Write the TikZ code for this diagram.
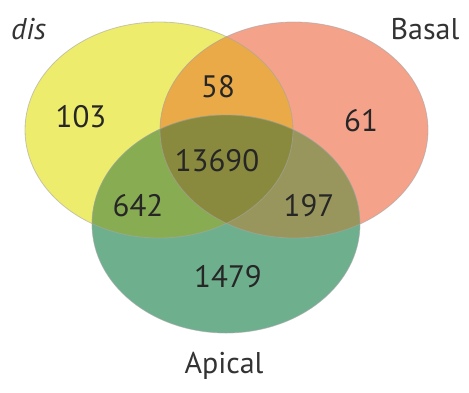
\documentclass[tikz,border=0pt]{standalone}
\usepackage{fontspec}
\setmainfont{PT Sans}
\usepackage{tikz}
\usetikzlibrary{
  calc,
  positioning,
}
\definecolor{disyellow}{RGB}{238, 236, 108}
\definecolor{basalred}{RGB}{245, 162, 138}
\definecolor{apicalgreen}{RGB}{110, 176, 142}
\definecolor{disbasal}{RGB}{234, 170, 72}
\definecolor{disapical}{RGB}{136, 172, 82}
\definecolor{basalapical}{RGB}{152, 150, 92}
\definecolor{allthree}{RGB}{138, 138, 62}
\tikzstyle{count} = [
  font=\fontsize{31}{33}\selectfont,
  text=black!85,
  inner sep=0pt,
]
\tikzstyle{setname} = [
  font=\fontsize{30}{32}\selectfont,
  text=black!80,
  inner sep=0pt,
]
\tikzstyle{rim} = [
  line width=0.8pt,
  draw=black!35,
  draw opacity=0.6,
]
\def\disset{(159,130) ellipse [x radius=134, y radius=108]}
\def\basalset{(294,130) ellipse [x radius=134, y radius=108]}
\def\apicalset{(226,224) ellipse [x radius=134, y radius=109]}

\begin{document}
\begin{tikzpicture}[x=1pt, y=-1pt]

        \useasboundingbox (0,0) rectangle (469,392);

        \fill [disyellow] \disset;
        \fill [basalred] \basalset;
        \fill [apicalgreen] \apicalset;

        \begin{scope}
          \clip \disset;
          \fill [disbasal] \basalset;
          \fill [disapical] \apicalset;
        \end{scope}

        \begin{scope}
          \clip \basalset;
          \fill [basalapical] \apicalset;
        \end{scope}

        \begin{scope}
          \clip \disset;
          \clip \basalset;
          \fill [allthree] \apicalset;
        \end{scope}

        \foreach \s in {\disset, \basalset, \apicalset} {
          \draw [rim] \s;
        }

        \node [count] (n103) at (81, 117) {103};
        \node [count] (n58) at (218, 87) {58};
        \node [count] (n61) at (361, 121) {61};
        \node [count] (n13690) at (217, 161) {13690};
        \node [count] (n642) at (138, 206) {642};
        \node [count] (n197) at (309, 206) {197};
        \node [count] (n1479) at (228, 277) {1479};

        \node [setname, anchor=west] (dis) at (11, 29) {\itshape dis};
        \node [setname] (basal) at (425, 29) {Basal};
        \node [setname] (apical) at (224, 366) {Apical};
      \end{tikzpicture}
\end{document}
